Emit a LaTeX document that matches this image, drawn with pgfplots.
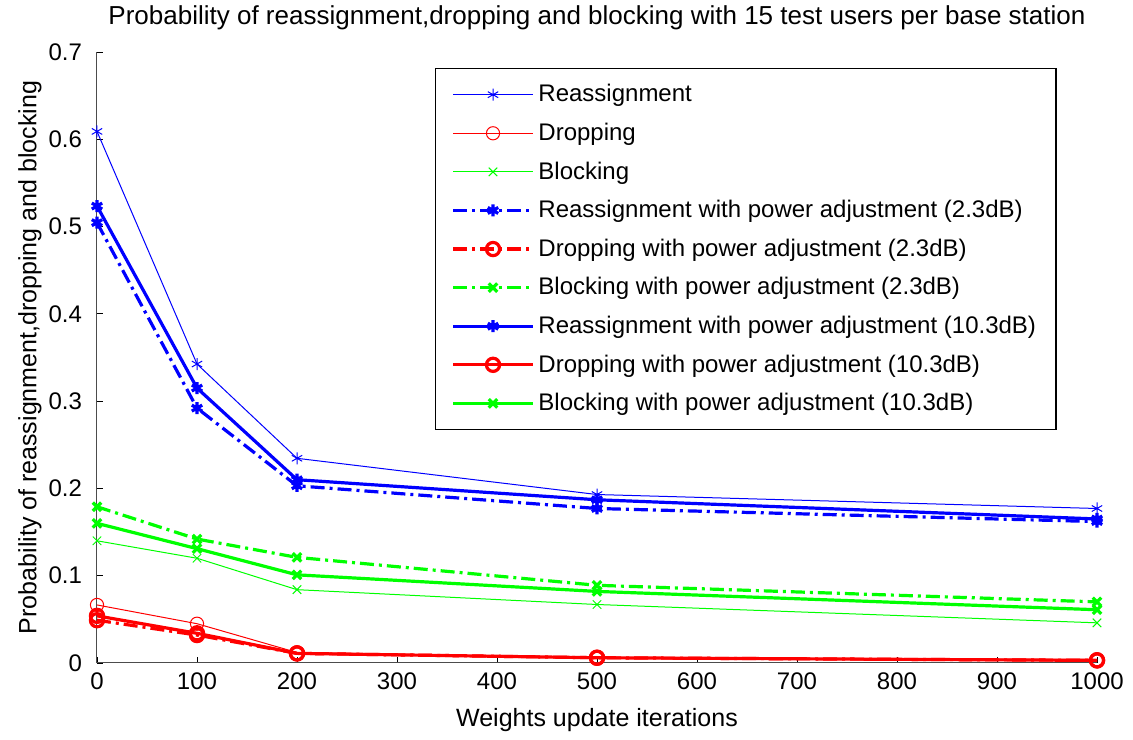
\documentclass[border=0pt]{standalone}
\usepackage{pgfplots}
\pgfplotsset{compat=1.18}
\usepackage{fontspec}
\setmainfont{Liberation Sans}
\begin{document}
\begin{tikzpicture}
\begin{axis}[
  name=ax,
  scale only axis,
  width=500pt, height=305.5pt,
  xmin=0, xmax=1000, ymin=0, ymax=0.7,
  axis x line*=bottom, axis y line*=left,
  xtick={0,100,...,1000},
  xticklabels={0,100,200,300,400,500,600,700,800,900,1000},
  ytick={0,0.1,0.2,0.3,0.4,0.5,0.6,0.7},
  yticklabels={0,0.1,0.2,0.3,0.4,0.5,0.6,0.7},
  tick align=inside,
  major tick length=3pt,
  tick style={black, line width=0.4pt},
  axis line style={black!70, line width=0.5pt},
  ticklabel style={font=\fontsize{12}{14}\selectfont},
  yticklabel style={xshift=-4pt},
  xticklabel style={yshift=-1.5pt},
  title={Probability of reassignment,dropping and blocking with 15 test users per base station},
  title style={font=\fontsize{13}{15}\selectfont, at={(axis description cs:0.5,1.036)}, anchor=center},
  xlabel={Weights update iterations},
  ylabel={Probability of reassignment,dropping and blocking},
  label style={font=\fontsize{12.5}{14}\selectfont},
  xlabel style={at={(axis description cs:0.5,-0.0933)}, anchor=center},
  ylabel style={at={(axis description cs:-0.067,0.5)}, anchor=center},
  legend style={at={(axis description cs:0.338,0.974)}, anchor=north west, draw=black, line width=0.6pt,
    font=\fontsize{12}{14}\selectfont, row sep=5.1pt, inner xsep=8pt, inner ysep=6pt,
    cells={anchor=west}},
  legend image code/.code={
    \draw[#1] (0cm,0cm) -- (1.4cm,0cm);
    \draw[#1, solid] plot coordinates {(0.7cm,0cm)};
  },
]
\addplot[blue, line width=0.5pt, mark=asterisk, mark size=3pt] coordinates {(0,0.609) (100,0.3425) (200,0.2345) (500,0.193) (1000,0.177)};
\addlegendentry{Reassignment}
\addplot[red, line width=0.5pt, mark=o, mark size=3.3pt] coordinates {(0,0.0665) (100,0.045) (200,0.012) (500,0.006) (1000,0.004)};
\addlegendentry{Dropping}
\addplot[green, line width=0.5pt, mark=x, mark size=3pt] coordinates {(0,0.140) (100,0.120) (200,0.084) (500,0.067) (1000,0.046)};
\addlegendentry{Blocking}
\addplot[blue, line width=1.6pt, dash pattern=on 7pt off 2.5pt on 1.5pt off 2.5pt, mark=asterisk, mark size=3pt, mark options={solid}] coordinates {(0,0.5045) (100,0.292) (200,0.203) (500,0.177) (1000,0.162)};
\addlegendentry{Reassignment with power adjustment (2.3dB)}
\addplot[red, line width=1.6pt, dash pattern=on 7pt off 2.5pt on 1.5pt off 2.5pt, mark=o, mark size=3.3pt, mark options={solid}] coordinates {(0,0.049) (100,0.032) (200,0.011) (500,0.006) (1000,0.003)};
\addlegendentry{Dropping with power adjustment (2.3dB)}
\addplot[green, line width=1.6pt, dash pattern=on 7pt off 2.5pt on 1.5pt off 2.5pt, mark=x, mark size=3pt, mark options={solid}] coordinates {(0,0.179) (100,0.142) (200,0.121) (500,0.089) (1000,0.070)};
\addlegendentry{Blocking with power adjustment (2.3dB)}
\addplot[blue, line width=1.6pt, mark=asterisk, mark size=3pt] coordinates {(0,0.5235) (100,0.315) (200,0.210) (500,0.187) (1000,0.165)};
\addlegendentry{Reassignment with power adjustment (10.3dB)}
\addplot[red, line width=1.6pt, mark=o, mark size=3.3pt] coordinates {(0,0.054) (100,0.034) (200,0.011) (500,0.006) (1000,0.003)};
\addlegendentry{Dropping with power adjustment (10.3dB)}
\addplot[green, line width=1.6pt, mark=x, mark size=3pt] coordinates {(0,0.160) (100,0.131) (200,0.101) (500,0.082) (1000,0.061)};
\addlegendentry{Blocking with power adjustment (10.3dB)}
\end{axis}
\pgfresetboundingbox
\path[use as bounding box] ([xshift=-48.5pt,yshift=-38.5pt]ax.south west) rectangle ([xshift=18pt,yshift=26pt]ax.north east);
\end{tikzpicture}
\end{document}
